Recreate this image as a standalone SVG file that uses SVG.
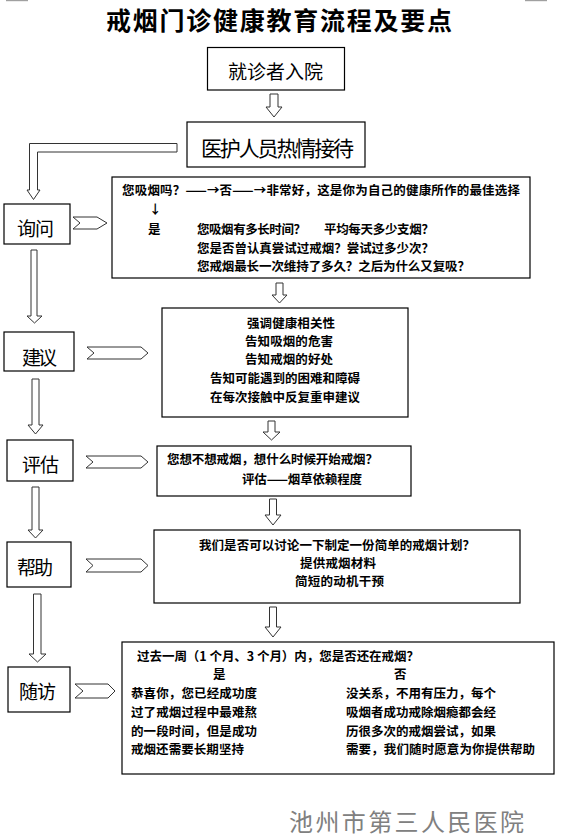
<svg xmlns="http://www.w3.org/2000/svg" width="561" height="837" viewBox="0 0 561 837">
<style>
.box{fill:#fff;stroke:#000;stroke-width:1.2}
.arr{fill:#fff;stroke:#333;stroke-width:1}
.t{font-family:"Noto Sans CJK SC","Noto Sans",sans-serif;fill:#000;dominant-baseline:central}
.b{font-weight:bold;font-size:12.5px}
.n{font-size:19px}
</style>
<rect width="561" height="837" fill="#fff"/>
<rect x="6" y="0" width="22" height="1.2" fill="#a0a0a0"/>
<rect x="525" y="0" width="22" height="1.2" fill="#a0a0a0"/>
<text class="t" x="106" y="19" font-size="25" font-weight="bold" textLength="346" lengthAdjust="spacing">戒烟门诊健康教育流程及要点</text>

<g id="n-enter">
<rect class="box" x="207.5" y="47.5" width="137" height="42.5"/>
<text class="t" x="228" y="70.5" font-size="19" textLength="95">就诊者入院</text>
</g>
<g id="n-welcome">
<rect class="box" x="187" y="122" width="178" height="45"/>
<text class="t" x="201" y="147" font-size="21" textLength="153">医护人员热情接待</text>
</g>

<g id="n-ask">
<rect class="box" x="4" y="204" width="66" height="40"/>
<text class="t n" x="17" y="227" textLength="37">询问</text>
</g>
<g id="n-ask-detail">
<rect class="box" x="112" y="177" width="418" height="101"/>
<text class="t b" x="122" y="189" textLength="398">您吸烟吗？——→否——→非常好，这是你为自己的健康所作的最佳选择</text>
<text class="t b" x="149" y="208">↓</text>
<text class="t b" x="148" y="228" textLength="11">是</text>
<text class="t b" x="197" y="228" textLength="109">您吸烟有多长时间？</text>
<text class="t b" x="324" y="228" textLength="110">平均每天多少支烟？</text>
<text class="t b" x="197" y="247" textLength="237">您是否曾认真尝试过戒烟？尝试过多少次？</text>
<text class="t b" x="197" y="265" textLength="273">您戒烟最长一次维持了多久？之后为什么又复吸？</text>
</g>

<g id="n-advise">
<rect class="box" x="4" y="332" width="70" height="39"/>
<text class="t n" x="22" y="356" textLength="35">建议</text>
</g>
<g id="n-advise-detail">
<rect class="box" x="162" y="308" width="246" height="109"/>
<text class="t b" x="247" y="322" textLength="88">强调健康相关性</text>
<text class="t b" x="245" y="340" textLength="88">告知吸烟的危害</text>
<text class="t b" x="245" y="358" textLength="88">告知戒烟的好处</text>
<text class="t b" x="210" y="377" textLength="150">告知可能遇到的困难和障碍</text>
<text class="t b" x="210" y="396" textLength="150">在每次接触中反复重申建议</text>
</g>

<g id="n-assess">
<rect class="box" x="7" y="440" width="66" height="41"/>
<text class="t n" x="22" y="463" textLength="37">评估</text>
</g>
<g id="n-assess-detail">
<rect class="box" x="157" y="446" width="254" height="50"/>
<text class="t b" x="167" y="458" textLength="211">您想不想戒烟，想什么时候开始戒烟？</text>
<text class="t b" x="242" y="478" textLength="120">评估——烟草依赖程度</text>
</g>

<g id="n-help">
<rect class="box" x="7" y="542" width="64" height="45"/>
<text class="t n" x="17" y="566" textLength="36">帮助</text>
</g>
<g id="n-help-detail">
<rect class="box" x="154" y="530" width="366" height="73"/>
<text class="t b" x="199" y="544" textLength="276">我们是否可以讨论一下制定一份简单的戒烟计划？</text>
<text class="t b" x="300" y="562" textLength="76">提供戒烟材料</text>
<text class="t b" x="295" y="580" textLength="89">简短的动机干预</text>
</g>

<g id="n-follow">
<rect class="box" x="8" y="667" width="62" height="45"/>
<text class="t n" x="19" y="690" textLength="37">随访</text>
</g>
<g id="n-follow-detail">
<rect class="box" x="122" y="642" width="432" height="132"/>
<text class="t b" x="137" y="655" textLength="282">过去一周（1 个月、3 个月）内，您是否还在戒烟？</text>
<text class="t b" x="213" y="673" textLength="13">是</text>
<text class="t b" x="394" y="673" textLength="14">否</text>
<text class="t b" x="131" y="692" textLength="126">恭喜你，您已经成功度</text>
<text class="t b" x="131" y="711" textLength="126">过了戒烟过程中最难熬</text>
<text class="t b" x="131" y="730" textLength="126">的一段时间，但是成功</text>
<text class="t b" x="131" y="748" textLength="113">戒烟还需要长期坚持</text>
<text class="t b" x="346" y="692" textLength="150">没关系，不用有压力，每个</text>
<text class="t b" x="346" y="711" textLength="150">吸烟者成功戒除烟瘾都会经</text>
<text class="t b" x="346" y="730" textLength="150">历很多次的戒烟尝试，如果</text>
<text class="t b" x="346" y="748" textLength="189">需要，我们随时愿意为你提供帮助</text>
</g>

<g id="connectors">
<polygon class="arr" points="270,94 278,94 278,107 282,107 274,117 266,107 270,107"/>
<polygon class="arr" points="177,143.5 177,152 37.5,152 37.5,190 40,190 33.5,199.5 27,190 29.5,190 29.5,143.5"/>
<polygon class="arr" points="276,283 283,283 283,295 287,295 279.5,303 272,295 276,295"/>
<polygon class="arr" points="268,421 275,421 275,432 280,432 271.5,440 263,432 268,432"/>
<polygon class="arr" points="269.5,499 276.5,499 276.5,515 281,515 273,525 265,515 269.5,515"/>
<polygon class="arr" points="269.5,607 276.5,607 276.5,627 281,627 273,637 265,627 269.5,627"/>
<polygon class="arr" points="31,250 37,250 37,316 42,316 34.5,323 27,316 31,316"/>
<polygon class="arr" points="32,379 39,379 39,425 43,425 35.5,434 28,425 32,425"/>
<polygon class="arr" points="32,487 39,487 39,530 43,530 35.5,538 28,530 32,530"/>
<polygon class="arr" points="33.5,594 41,594 41,654 46,654 37.5,662 29,654 33.5,654"/>
<polygon class="arr" points="73,217 97,217 107,223 97,229 73,229 80,223"/>
<polygon class="arr" points="87,347 141,347 148,353 141,359 87,359 94,353"/>
<polygon class="arr" points="86,456 141,456 148,462 141,468 86,468 93,462"/>
<polygon class="arr" points="86,559 141,559 148,565.5 141,572 86,572 93,565.5"/>
<polygon class="arr" points="75,684 108,684 115,691 108,698 75,698 83,691"/>
</g>

<text class="t" x="289" y="820" font-size="24" fill="#808080" style="fill:#808080" textLength="235">池州市第三人民医院</text>
</svg>
